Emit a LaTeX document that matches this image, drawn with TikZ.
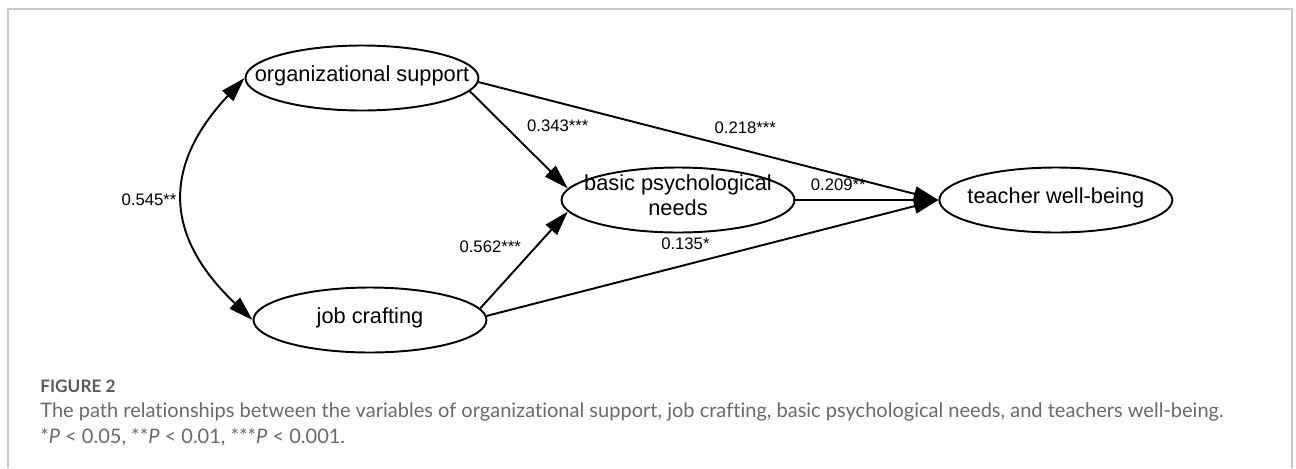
\documentclass[tikz,border=0pt]{standalone}
\usepackage{fontspec}
\setmainfont{Liberation Sans}
\newfontfamily\capfont{Lato}[Ligatures=NoCommon]
\usepackage{xcolor}
\usepackage{tikz}
\usetikzlibrary{shapes,arrows.meta,positioning}
\definecolor{cadre}{RGB}{200,200,200}
\definecolor{gris}{RGB}{105,105,105}
\definecolor{grisFonce}{RGB}{90,90,90}
% text of a variable, centred and kept out of the ellipse size
\newcommand{\varlab}[1]{\raisebox{-3.8pt}{\smash{\makebox[0pt]{\begin{tabular}{@{}c@{}}#1\end{tabular}}}}}

\begin{document}
\begin{tikzpicture}[x=0.02cm, y=-0.02cm,
	var/.style={ellipse, draw, line width=1.1pt, minimum width=4.66cm,
		minimum height=1.3cm, inner sep=0pt, font=\fontsize{12.4}{14.5}\selectfont},
	lbl/.style={font=\fontsize{9.5}{11}\selectfont, inner sep=1pt},
	arr/.style={-{Triangle[length=14pt, width=8.5pt]}, line width=1.1pt},
	dbl/.style={{Triangle[length=14pt, width=8.5pt]}-{Triangle[length=14pt, width=8.5pt]}, line width=1.1pt},
	captxt/.style={anchor=base west, inner sep=0pt, text=gris, font=\capfont\fontsize{11.4}{13}\selectfont}
	]
	\useasboundingbox (0,0) rectangle (1296,468);
	\draw[cadre, line width=0.9pt] (8,468) -- (8,9) -- (1292,9) -- (1292,468);
	
	\node[var] (org) at (362,78)  {\varlab{organizational support}};
	\node[var] (job) at (370,320) {\varlab{job crafting}};
	\node[var] (bpn) at (678,200) {\varlab{basic psychological\\needs}};
	\node[var, right=2.86cm of bpn] (twb) {\varlab{teacher well-being}};
	
	\draw[dbl] (org.west) .. controls (163,165) and (163,235) .. node[lbl, left=3pt] (w545) {0.545**} (job.west);
	\draw[arr] (org.-7) -- node[lbl, pos=.36, right=11pt] (w343) {0.343***} (bpn.174);
	\draw[arr] (job.6)  -- node[lbl, pos=.635, left=7pt] (w562) {0.562***} (bpn.186);
	\draw[arr] (org.-2) -- node[lbl, pos=.58, above=8pt] (w218) {0.218***} (twb.west);
	\draw[arr] (bpn.east) -- node[lbl, pos=.3, above=3.5pt] (w209) {0.209**} (twb.west);
	\draw[arr] (job.2)  -- node[lbl, pos=.44, above=7pt] (w135) {0.135*} (twb.west);
	
	\node[captxt, text=grisFonce, font=\capfont\bfseries\fontsize{9.8}{11}\selectfont] (fig) at (40,392) {FIGURE 2};
	\node[captxt] (cap1) at (40,417) {The path relationships between the variables of organizational support, job crafting, basic psychological needs, and teachers well-being.};
	\node[captxt] (cap2) at (40,443) {*\textit{P} < 0.05, **\textit{P} < 0.01, ***\textit{P} < 0.001.};
\end{tikzpicture}
\end{document}
